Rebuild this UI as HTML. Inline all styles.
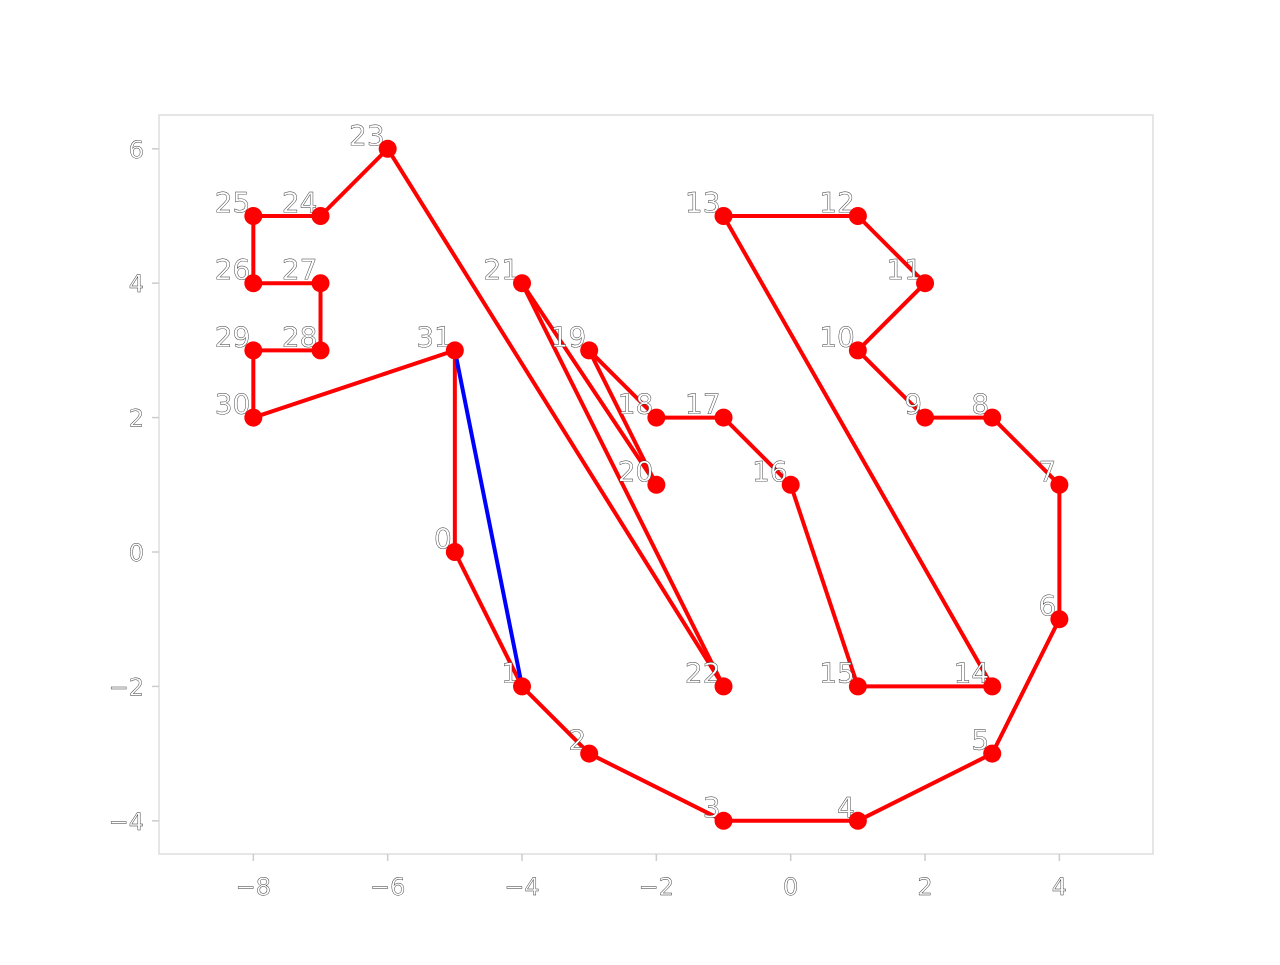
<!DOCTYPE html>
<html><head><meta charset="utf-8"><style>
html,body{margin:0;padding:0;background:#fff;}
svg text{font-family:"DejaVu Sans","Liberation Sans",sans-serif;fill:#fff;stroke:#333;stroke-width:0.45;}
</style></head><body>
<svg id="chart" width="1280" height="960">
<rect x="159" y="115" width="994" height="739" fill="none" stroke="#ddd" stroke-width="1.5"/>
<g id="ticks"></g><g id="lines"></g><g id="labels"></g><g id="pts"></g>
</svg>
<script>
const xs=[-5,-4,-3,-1,1,3,4,4,3,2,1,2,1,-1,3,1,0,-1,-2,-3,-2,-4,-1,-6,-7,-8,-8,-7,-7,-8,-8,-5];
const ys=[0,-2,-3,-4,-4,-3,-1,1,2,2,3,4,5,5,-2,-2,1,2,2,3,1,4,-2,6,5,5,4,4,3,3,2,3];
const blueEdge=[31,1];
const xTicks=[-8,-6,-4,-2,0,2,4];
const yTicks=[-4,-2,0,2,4,6];
const sx=v=>790.7+v*67.17, sy=v=>552-v*67.2;
const NS="http://www.w3.org/2000/svg";
function mk(t,a,p){const e=document.createElementNS(NS,t);for(const k in a)e.setAttribute(k,a[k]);p.appendChild(e);return e;}
const T=document.getElementById('ticks'),L=document.getElementById('lines'),B=document.getElementById('labels'),P=document.getElementById('pts');
xTicks.forEach(v=>{mk('line',{x1:sx(v),x2:sx(v),y1:854,y2:861,stroke:'#ccc','stroke-width':1.5},T);
const t=mk('text',{x:sx(v),y:895,'text-anchor':'middle','font-size':24},T);t.textContent=v<0?'\u2212'+(-v):v;

});
yTicks.forEach(v=>{mk('line',{x1:152,x2:159,y1:sy(v),y2:sy(v),stroke:'#ccc','stroke-width':1.5},T);
const t=mk('text',{x:144,y:sy(v)+9,'text-anchor':'end','font-size':24},T);t.textContent=v<0?'\u2212'+(-v):v;

});
const n=xs.length;
for(let i=0;i<n;i++){const j=(i+1)%n;
const l=mk('line',{x1:sx(xs[i]),y1:sy(ys[i]),x2:sx(xs[j]),y2:sy(ys[j]),stroke:'#f00','stroke-width':4},L);

}
const bl=mk('line',{x1:sx(xs[blueEdge[0]]),y1:sy(ys[blueEdge[0]]),x2:sx(xs[blueEdge[1]]),y2:sy(ys[blueEdge[1]]),stroke:'#00f','stroke-width':4},L);


for(let i=0;i<n;i++){
const t=mk('text',{x:sx(xs[i])-3,y:sy(ys[i])-4,'text-anchor':'end','font-size':28},B);t.textContent=i;


const c=mk('circle',{cx:sx(xs[i]),cy:sy(ys[i]),r:9,fill:'#f00'},P);

}
</script>
</body></html>
